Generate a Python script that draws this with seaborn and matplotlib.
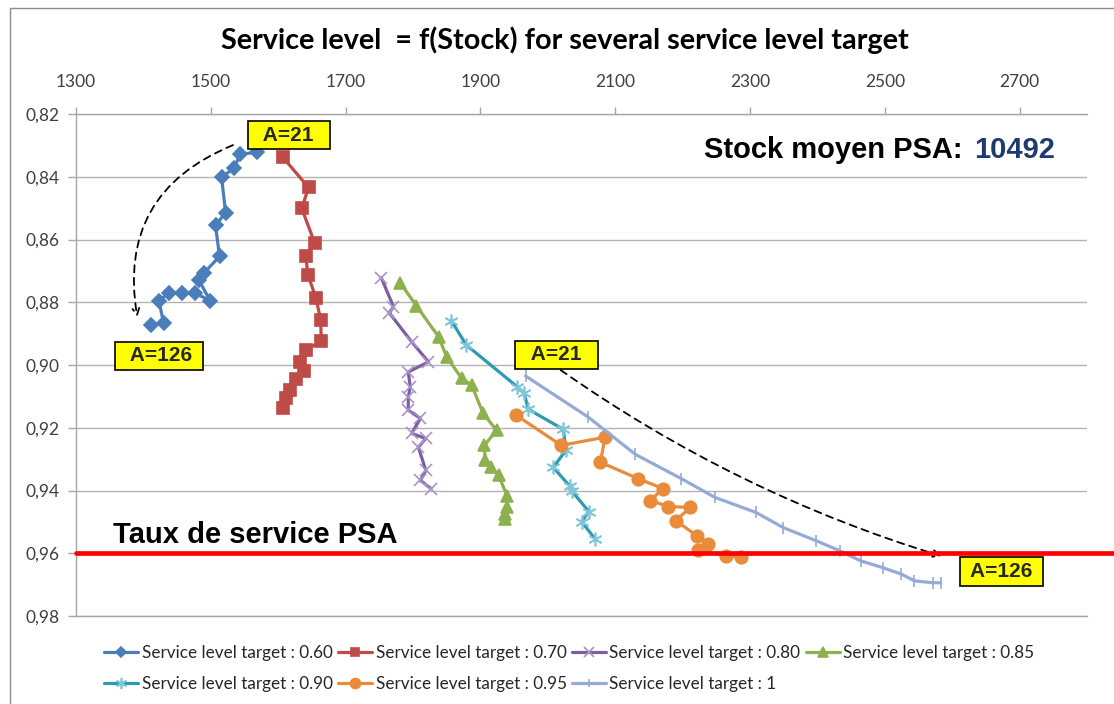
import matplotlib
matplotlib.use("Agg")
import matplotlib.pyplot as plt
from matplotlib.ticker import FuncFormatter, MultipleLocator
from matplotlib.patches import Rectangle
import seaborn as sns

# stock (x) and service level (y), A=21 first
stock_060 = [1568, 1544, 1534, 1516, 1522, 1507, 1513, 1490, 1482, 1499, 1476, 1457, 1438, 1423, 1430, 1411]
sl_060 = [0.8322, 0.8328, 0.8373, 0.8402, 0.8514, 0.8555, 0.8654, 0.8706, 0.8728, 0.8795, 0.877, 0.877, 0.877, 0.8795, 0.8866, 0.8872]

stock_070 = [1607, 1645, 1635, 1654, 1641, 1644, 1656, 1663, 1664, 1642, 1633, 1639, 1626, 1617, 1611, 1607]
sl_070 = [0.8338, 0.8434, 0.8501, 0.861, 0.8654, 0.8712, 0.8786, 0.8856, 0.8923, 0.8952, 0.899, 0.9019, 0.9045, 0.908, 0.9106, 0.9138]

stock_080 = [1753, 1771, 1765, 1798, 1823, 1793, 1796, 1793, 1793, 1811, 1798, 1819, 1808, 1819, 1811, 1827]
sl_080 = [0.8722, 0.8814, 0.8834, 0.8926, 0.899, 0.9022, 0.907, 0.9102, 0.9144, 0.917, 0.9218, 0.9234, 0.9262, 0.9336, 0.9368, 0.9394]

stock_085 = [1781, 1805, 1838, 1850, 1872, 1887, 1904, 1924, 1906, 1907, 1916, 1927, 1940, 1939, 1937, 1937]
sl_085 = [0.8738, 0.8811, 0.891, 0.8974, 0.9042, 0.9064, 0.9154, 0.9208, 0.9256, 0.9304, 0.9326, 0.9352, 0.9419, 0.9454, 0.9474, 0.949]

stock_090 = [1857, 1879, 1955, 1965, 1971, 2023, 2027, 2008, 2033, 2036, 2061, 2050, 2070]
sl_090 = [0.8859, 0.8936, 0.907, 0.909, 0.9141, 0.9205, 0.9272, 0.9326, 0.9387, 0.9403, 0.9467, 0.9499, 0.9554]

stock_095 = [1953, 2020, 2085, 2078, 2134, 2171, 2152, 2179, 2211, 2190, 2221, 2238, 2223, 2264, 2287]
sl_095 = [0.916, 0.9256, 0.923, 0.931, 0.9362, 0.9394, 0.9432, 0.9451, 0.9454, 0.9496, 0.9544, 0.957, 0.9589, 0.9608, 0.9611]

stock_100 = [1967, 2060, 2130, 2198, 2248, 2309, 2349, 2398, 2433, 2464, 2497, 2524, 2544, 2571, 2583]
sl_100 = [0.9035, 0.9166, 0.9285, 0.9362, 0.9422, 0.947, 0.9518, 0.956, 0.9592, 0.9624, 0.9646, 0.9666, 0.9688, 0.9694, 0.9694]

labels = ["Service level target : 0.60", "Service level target : 0.70", "Service level target : 0.80",
          "Service level target : 0.85", "Service level target : 0.90", "Service level target : 0.95",
          "Service level target : 1"]

psa_service = 0.96
psa_stock = "10492"

series = [
    (stock_060, sl_060, "#4A7EBB", "#4A7EBB", "D", 7),
    (stock_070, sl_070, "#BE4B48", "#BE4B48", "s", 8),
    (stock_080, sl_080, "#7D5FA0", "#A994CB", "x", 9),
    (stock_085, sl_085, "#8DB14E", "#8DB14E", "^", 8.5),
    (stock_090, sl_090, "#2E9AB2", "#7FC6DA", (6, 2, 0), 10),
    (stock_095, sl_095, "#E88B3B", "#E88B3B", "o", 9),
    (stock_100, sl_100, "#95AAD7", "#95AAD7", "|", 8),
]

sns.set_theme(style="white")
plt.rcParams["font.family"] = ["Lato", "DejaVu Sans"]

fig = plt.figure(figsize=(11.14, 7.04), dpi=100)
ax = fig.add_axes([0.0682, 0.125, 0.9076, 0.713])

for (xs, ys, col, mcol, mk, ms), lab in zip(series, labels):
    sns.lineplot(x=xs, y=ys, sort=False, estimator=None, ax=ax, color=col, lw=2.3,
                 marker=mk, markersize=ms, markerfacecolor=mcol, markeredgecolor=mcol,
                 markeredgewidth=1.2, label=lab)

ax.set_xlim(1300, 2800)
ax.set_ylim(0.98, 0.82)
ax.set_xticks(range(1300, 2701, 200))
ax.yaxis.set_major_locator(MultipleLocator(0.02))
ax.yaxis.set_major_formatter(FuncFormatter(lambda v, p: f"{v:.2f}".replace(".", ",")))
ax.xaxis.tick_top()
ax.tick_params(axis="x", top=True, bottom=False, length=5, width=1, color="#A6A6A6",
               pad=12, labelsize=12.5, labelcolor="#404040")
ax.tick_params(axis="y", left=True, length=6, width=1, color="#A6A6A6",
               pad=6, labelsize=12.5, labelcolor="#404040")
ax.grid(axis="y", color="#B3B3B3", lw=1)
ax.grid(axis="x", visible=False)
for side in ["top", "bottom", "left"]:
    ax.spines[side].set_color("#A6A6A6")
    ax.spines[side].set_linewidth(1)
ax.spines["right"].set_visible(False)
ax.set_xlabel("")
ax.set_ylabel("")

# PSA service level line, runs out past the plot to the right edge
ax.plot([0, 1.03], [psa_service, psa_service], color="#FF0000", lw=3.4,
        transform=ax.get_yaxis_transform(), clip_on=False, zorder=5)

ax.text(1355, 0.9568, "Taux de service PSA", fontsize=21, fontweight="bold",
        family="Liberation Sans", color="black", va="baseline", ha="left")
ax.text(2232, 0.834, "Stock moyen PSA:", fontsize=21, fontweight="bold",
        family="Liberation Sans", color="black", va="baseline", ha="left")
ax.text(2752, 0.834, psa_stock, fontsize=21, fontweight="bold",
        family="Liberation Sans", color="#1F3A70", va="baseline", ha="right")

box = dict(boxstyle="square,pad=0.22", fc="#FFFF00", ec="black", lw=1.2)
for x, y, t in [(1616, 0.8267, "  A=21  "), (1423, 0.8971, "  A=126 "),
                (2013, 0.8967, "  A=21  "), (2673, 0.9658, " A=126 ")]:
    ax.text(x, y, t, fontsize=15, fontweight="bold", family="Liberation Sans",
            ha="center", va="center", bbox=box, zorder=8)

arrow = dict(arrowstyle="->", color="black", lw=1.3, linestyle=(0, (4, 3)),
             shrinkA=0, shrinkB=0)
ax.annotate("", xy=(1391, 0.8847), xytext=(1533, 0.8299),
            arrowprops=dict(arrow, connectionstyle="arc3,rad=0.4"))
ax.annotate("", xy=(2584, 0.9609), xytext=(2019, 0.9016),
            arrowprops=dict(arrow, connectionstyle="arc3,rad=0.08"))

fig.text(0.507, 0.930, "Service level  = f(Stock) for several service level target",
         fontsize=20.7, fontweight="bold", color="black", ha="center", va="baseline")

# legend filled row by row like the original
handles, labs = ax.get_legend_handles_labels()
ax.get_legend().remove()
order = [0, 4, 1, 5, 2, 6, 3]
fig.legend([handles[i] for i in order], [labs[i] for i in order], ncol=4,
           loc="center", bbox_to_anchor=(0.511, 0.0504), frameon=False,
           fontsize=12.3, handlelength=2.0, handletextpad=0.2, columnspacing=0.3,
           labelspacing=0.85, markerscale=0.8)

# outer chart frame
fig.add_artist(Rectangle((9.5 / 1114, -0.05), 1.2, 1.05 - 7.5 / 704, transform=fig.transFigure,
                         fill=False, ec="#8C8C8C", lw=1))

fig.savefig("out.png", dpi=100)
